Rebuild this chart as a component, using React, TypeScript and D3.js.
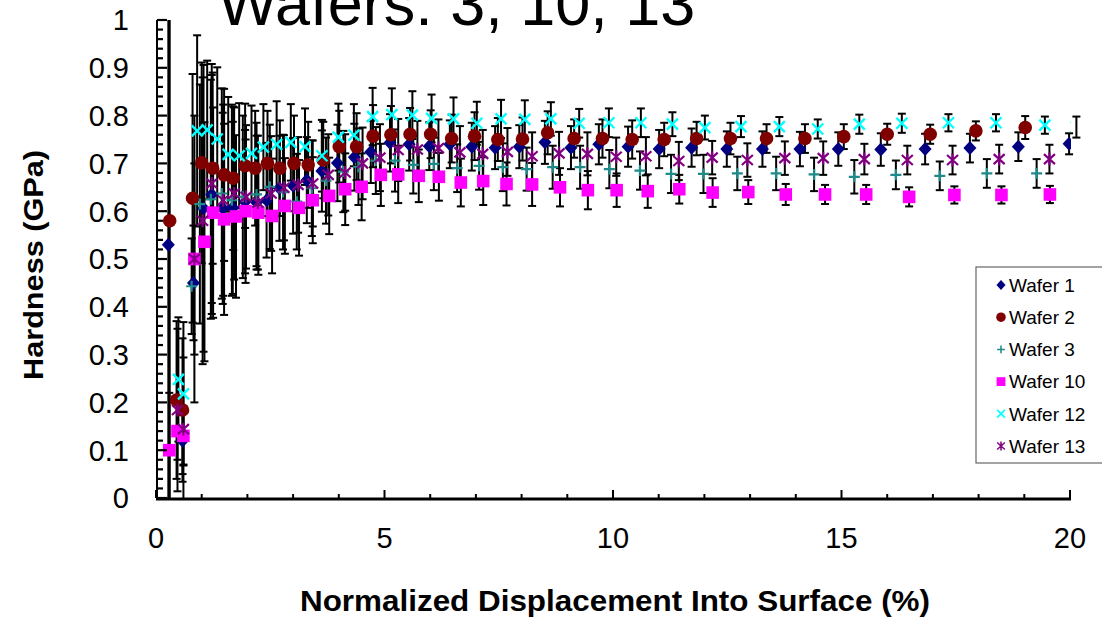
import React from "react";
import * as d3 from "d3";

// Nanoindentation hardness vs. normalized displacement, six wafers
const wafer1X = [0.27, 0.58, 0.82, 1.04, 1.22, 1.46, 1.68, 1.95, 2.2, 2.42, 2.7, 3.0, 3.3, 3.63, 3.97, 4.34, 4.7, 5.12, 5.54, 5.98, 6.43, 6.91, 7.42, 7.95, 8.51, 9.08, 9.69, 10.33, 11.01, 11.72, 12.49, 13.27, 14.09, 14.93, 15.86, 16.83, 17.81, 18.87, 19.98];
const wafer1Y = [0.53, 0.12, 0.45, 0.606, 0.635, 0.606, 0.607, 0.62, 0.618, 0.623, 0.648, 0.653, 0.665, 0.684, 0.701, 0.713, 0.724, 0.743, 0.74, 0.736, 0.74, 0.735, 0.733, 0.735, 0.744, 0.733, 0.74, 0.735, 0.73, 0.733, 0.73, 0.73, 0.73, 0.73, 0.729, 0.73, 0.732, 0.735, 0.741];
const wafer1Err = [0.6, 0.07, 0.12, 0.3, 0.25, 0.2, 0.18, 0.15, 0.14, 0.12, 0.11, 0.1, 0.09, 0.085, 0.08, 0.07, 0.065, 0.06, 0.055, 0.05, 0.05, 0.05, 0.045, 0.045, 0.045, 0.045, 0.042, 0.042, 0.04, 0.04, 0.037, 0.037, 0.036, 0.035, 0.034, 0.032, 0.03, 0.03, 0.022];

const wafer2X = [0.3, 0.45, 0.58, 0.8, 1.0, 1.24, 1.49, 1.69, 1.95, 2.17, 2.44, 2.71, 3.02, 3.33, 3.66, 4.01, 4.39, 4.75, 5.14, 5.56, 6.01, 6.47, 6.97, 7.48, 8.02, 8.57, 9.15, 9.77, 10.42, 11.12, 11.83, 12.57, 13.36, 14.2, 15.05, 16.0, 16.94, 17.94, 19.02];
const wafer2Y = [0.58, 0.205, 0.184, 0.627, 0.701, 0.69, 0.676, 0.669, 0.695, 0.69, 0.7, 0.69, 0.7, 0.697, 0.707, 0.735, 0.735, 0.757, 0.76, 0.761, 0.761, 0.752, 0.757, 0.75, 0.751, 0.764, 0.752, 0.752, 0.75, 0.75, 0.752, 0.752, 0.752, 0.752, 0.756, 0.761, 0.761, 0.768, 0.775];
const wafer2Err = [0.6, 0.165, 0.15, 0.26, 0.21, 0.2, 0.18, 0.15, 0.13, 0.12, 0.11, 0.1, 0.1, 0.09, 0.08, 0.075, 0.07, 0.065, 0.06, 0.055, 0.05, 0.05, 0.05, 0.045, 0.045, 0.045, 0.04, 0.04, 0.04, 0.035, 0.035, 0.033, 0.03, 0.03, 0.026, 0.022, 0.02, 0.02, 0.024];

const wafer3X = [0.78, 0.96, 1.2, 1.44, 1.66, 1.9, 2.2, 2.49, 2.78, 3.08, 3.41, 3.72, 4.1, 4.43, 4.81, 5.23, 5.63, 6.08, 6.59, 7.07, 7.59, 8.11, 8.68, 9.28, 9.92, 10.59, 11.27, 11.98, 12.72, 13.57, 14.4, 15.28, 16.19, 17.15, 18.18, 19.27];
const wafer3Y = [0.443, 0.615, 0.625, 0.637, 0.623, 0.63, 0.635, 0.651, 0.64, 0.62, 0.648, 0.664, 0.683, 0.693, 0.706, 0.706, 0.697, 0.699, 0.69, 0.695, 0.692, 0.688, 0.692, 0.692, 0.688, 0.685, 0.678, 0.678, 0.679, 0.679, 0.677, 0.672, 0.676, 0.674, 0.679, 0.679];
const wafer3Err = [0.1, 0.25, 0.25, 0.22, 0.2, 0.17, 0.15, 0.13, 0.12, 0.1, 0.1, 0.09, 0.085, 0.08, 0.07, 0.065, 0.06, 0.055, 0.05, 0.05, 0.05, 0.045, 0.045, 0.045, 0.04, 0.04, 0.04, 0.04, 0.035, 0.035, 0.035, 0.035, 0.03, 0.03, 0.03, 0.03];

const wafer10X = [0.29, 0.47, 0.6, 0.84, 1.06, 1.25, 1.49, 1.75, 1.96, 2.24, 2.54, 2.82, 3.13, 3.43, 3.79, 4.14, 4.5, 4.92, 5.3, 5.75, 6.19, 6.67, 7.16, 7.67, 8.23, 8.84, 9.45, 10.08, 10.76, 11.45, 12.18, 12.96, 13.78, 14.64, 15.54, 16.48, 17.47, 18.5, 19.56];
const wafer10Y = [0.1, 0.14, 0.13, 0.5, 0.536, 0.597, 0.583, 0.589, 0.6, 0.597, 0.59, 0.611, 0.607, 0.623, 0.632, 0.646, 0.651, 0.676, 0.677, 0.674, 0.672, 0.66, 0.663, 0.657, 0.656, 0.65, 0.644, 0.644, 0.642, 0.646, 0.639, 0.64, 0.635, 0.635, 0.635, 0.63, 0.634, 0.634, 0.635];
const wafer10Err = [0.12, 0.06, 0.06, 0.2, 0.25, 0.22, 0.2, 0.17, 0.15, 0.13, 0.12, 0.1, 0.1, 0.09, 0.08, 0.075, 0.07, 0.065, 0.06, 0.055, 0.05, 0.05, 0.05, 0.045, 0.045, 0.04, 0.04, 0.035, 0.035, 0.03, 0.03, 0.025, 0.022, 0.02, 0.02, 0.02, 0.018, 0.018, 0.018];

const wafer12X = [0.49, 0.6, 0.9, 1.12, 1.34, 1.58, 1.82, 2.09, 2.35, 2.64, 2.95, 3.26, 3.63, 3.99, 4.33, 4.74, 5.16, 5.61, 6.03, 6.51, 7.02, 7.55, 8.07, 8.64, 9.26, 9.91, 10.61, 11.3, 12.01, 12.8, 13.64, 14.48, 15.39, 16.32, 17.34, 18.38, 19.45, 20.14];
const wafer12Y = [0.248, 0.218, 0.768, 0.77, 0.751, 0.719, 0.716, 0.721, 0.734, 0.74, 0.744, 0.735, 0.716, 0.755, 0.759, 0.798, 0.802, 0.801, 0.794, 0.793, 0.784, 0.793, 0.792, 0.793, 0.784, 0.785, 0.785, 0.782, 0.775, 0.777, 0.777, 0.772, 0.782, 0.784, 0.785, 0.785, 0.78, 0.776];
const wafer12Err = [0.13, 0.15, 0.2, 0.145, 0.15, 0.12, 0.11, 0.1, 0.09, 0.09, 0.08, 0.08, 0.075, 0.07, 0.065, 0.06, 0.055, 0.05, 0.05, 0.045, 0.045, 0.04, 0.04, 0.035, 0.03, 0.03, 0.03, 0.025, 0.025, 0.022, 0.02, 0.02, 0.02, 0.02, 0.018, 0.018, 0.018, 0.022];

const wafer13X = [0.47, 0.6, 0.84, 1.02, 1.22, 1.47, 1.71, 1.97, 2.23, 2.52, 2.8, 3.11, 3.43, 3.77, 4.14, 4.52, 4.9, 5.3, 5.72, 6.18, 6.65, 7.15, 7.69, 8.23, 8.82, 9.44, 10.07, 10.72, 11.44, 12.17, 12.94, 13.76, 14.6, 15.5, 16.44, 17.43, 18.45, 19.55];
const wafer13Y = [0.184, 0.144, 0.5, 0.58, 0.658, 0.623, 0.637, 0.63, 0.618, 0.637, 0.649, 0.655, 0.658, 0.676, 0.681, 0.7, 0.712, 0.728, 0.729, 0.732, 0.723, 0.72, 0.724, 0.715, 0.721, 0.72, 0.714, 0.715, 0.705, 0.712, 0.707, 0.711, 0.711, 0.709, 0.707, 0.707, 0.709, 0.709];
const wafer13Err = [0.17, 0.15, 0.3, 0.3, 0.25, 0.2, 0.18, 0.15, 0.14, 0.12, 0.11, 0.1, 0.09, 0.085, 0.08, 0.075, 0.07, 0.065, 0.06, 0.06, 0.055, 0.05, 0.05, 0.05, 0.045, 0.045, 0.04, 0.04, 0.04, 0.035, 0.035, 0.035, 0.035, 0.032, 0.03, 0.03, 0.03, 0.03];

const seriesNames = ["Wafer 1", "Wafer 2", "Wafer 3", "Wafer 10", "Wafer 12", "Wafer 13"];
const xTickLabels = [0, 5, 10, 15, 20];
const yTickLabels = [0, 0.1, 0.2, 0.3, 0.4, 0.5, 0.6, 0.7, 0.8, 0.9, 1];

type Shape = "diamond" | "circle" | "plus" | "square" | "cross" | "star";

const series: { name: string; x: number[]; y: number[]; err: number[]; shape: Shape; color: string }[] = [
  { name: seriesNames[0], x: wafer1X, y: wafer1Y, err: wafer1Err, shape: "diamond", color: "#000080" },
  { name: seriesNames[1], x: wafer2X, y: wafer2Y, err: wafer2Err, shape: "circle", color: "#800000" },
  { name: seriesNames[2], x: wafer3X, y: wafer3Y, err: wafer3Err, shape: "plus", color: "#1f8a8a" },
  { name: seriesNames[3], x: wafer10X, y: wafer10Y, err: wafer10Err, shape: "square", color: "#ff00ff" },
  { name: seriesNames[4], x: wafer12X, y: wafer12Y, err: wafer12Err, shape: "cross", color: "#00ffff" },
  { name: seriesNames[5], x: wafer13X, y: wafer13Y, err: wafer13Err, shape: "star", color: "#800080" },
];

const FONT = "'Liberation Sans', Arial, Helvetica, sans-serif";
const W = 1102;
const H = 617;
const PLOT = { left: 156, right: 1070, top: 20, bottom: 498 };

function Marker({ shape, color, cx, cy, s = 1 }: { shape: Shape; color: string; cx: number; cy: number; s?: number }) {
  const t = `translate(${cx},${cy}) scale(${s})`;
  switch (shape) {
    case "diamond":
      return <path transform={t} d="M0,-7L6.5,0L0,7L-6.5,0Z" fill={color} />;
    case "circle":
      return <circle transform={t} r={6.8} fill={color} />;
    case "square":
      return <rect transform={t} x={-6.3} y={-6.3} width={12.6} height={12.6} fill={color} />;
    case "plus":
      return <path transform={t} d="M-5.5,0H5.5M0,-5.5V5.5" stroke={color} strokeWidth={2.2} fill="none" />;
    case "cross":
      return <path transform={t} d="M-5.5,-5.5L5.5,5.5M-5.5,5.5L5.5,-5.5" stroke={color} strokeWidth={2.4} fill="none" />;
    case "star":
      return <path transform={t} d="M-5.5,-5L5.5,5M-5.5,5L5.5,-5M0,-6.5V6.5" stroke={color} strokeWidth={2.2} fill="none" />;
  }
}

export default function App() {
  const x = d3.scaleLinear().domain([0, 20]).range([PLOT.left, PLOT.right]);
  const y = d3.scaleLinear().domain([0, 1]).range([PLOT.bottom, PLOT.top]);

  const xMinor = d3.range(0, 21, 1);
  const yMinor = d3.range(0, 51, 1).map((i) => i * 0.02);
  const cap = 4;

  return (
    <div style={{ position: "absolute", left: 0, top: 0, width: W, height: H, background: "#fff" }}>
      <svg width={W} height={H} style={{ display: "block", fontFamily: FONT }}>
        <defs>
          <clipPath id="bars-clip">
            <rect x={0} y={PLOT.top} width={W} height={PLOT.bottom - PLOT.top} />
          </clipPath>
          <clipPath id="marks-clip">
            <rect x={PLOT.left} y={PLOT.top - 8} width={PLOT.right - PLOT.left + 1} height={PLOT.bottom - PLOT.top + 8} />
          </clipPath>
        </defs>
        <rect width={W} height={H} fill="#fff" />

        {/* title, running off the top edge */}
        <text x={218} y={25} fontSize={63} fill="#000">
          Wafers: 3, 10, 13
        </text>

        {/* error bars */}
        <g clipPath="url(#bars-clip)" stroke="#000" strokeWidth={2} fill="none">
          {series.map((s) =>
            s.x.map((xv, i) => {
              const e = s.err[i] ?? s.err[s.err.length - 1];
              const px = x(xv);
              const y0 = y(s.y[i] - e);
              const y1 = y(s.y[i] + e);
              return (
                <g key={`${s.name}-${i}`}>
                  <line x1={px} x2={px} y1={y0} y2={y1} />
                  <line x1={px - cap} x2={px + cap} y1={y0} y2={y0} />
                  <line x1={px - cap} x2={px + cap} y1={y1} y2={y1} />
                </g>
              );
            })
          )}
        </g>

        {/* markers */}
        <g clipPath="url(#marks-clip)">
          {series.map((s) =>
            s.x.map((xv, i) => (
              <Marker key={`${s.name}-m-${i}`} shape={s.shape} color={s.color} cx={x(xv)} cy={y(s.y[i])} />
            ))
          )}
        </g>

        {/* y axis */}
        <line x1={PLOT.left + 1} x2={PLOT.left + 1} y1={PLOT.top} y2={PLOT.bottom} stroke="#000" strokeWidth={2} />
        {yMinor.map((v, i) => (
          <line
            key={`ym-${i}`}
            x1={PLOT.left + 1}
            x2={PLOT.left + (i % 5 === 0 ? 11 : 7)}
            y1={y(v)}
            y2={y(v)}
            stroke="#000"
            strokeWidth={2.2}
          />
        ))}
        {yTickLabels.map((v) => (
          <text key={`yl-${v}`} x={129} y={y(v)} dy="0.36em" textAnchor="end" fontSize={29} fill="#000">
            {String(v)}
          </text>
        ))}

        {/* x axis */}
        <line x1={PLOT.left} x2={PLOT.right + 1} y1={PLOT.bottom + 1} y2={PLOT.bottom + 1} stroke="#000" strokeWidth={3} />
        {xMinor.map((v) => (
          <line
            key={`xm-${v}`}
            x1={x(v)}
            x2={x(v)}
            y1={PLOT.bottom}
            y2={PLOT.bottom - (v % 5 === 0 ? 8 : 4)}
            stroke="#000"
            strokeWidth={2}
          />
        ))}
        {xTickLabels.map((v) => (
          <text key={`xl-${v}`} x={x(v)} y={548} textAnchor="middle" fontSize={29} fill="#000">
            {String(v)}
          </text>
        ))}

        {/* axis titles */}
        <text
          x={615}
          y={611}
          textAnchor="middle"
          fontSize={30}
          fontWeight="bold"
          textLength={630}
          lengthAdjust="spacingAndGlyphs"
          fill="#000"
        >
          Normalized Displacement Into Surface (%)
        </text>
        <text
          transform={`translate(43,265) rotate(-90)`}
          textAnchor="middle"
          fontSize={28}
          fontWeight="bold"
          textLength={230}
          lengthAdjust="spacingAndGlyphs"
          fill="#000"
        >
          Hardness (GPa)
        </text>

        {/* legend */}
        <g>
          <rect x={976} y={267} width={140} height={196} fill="#fff" stroke="#666" strokeWidth={1.2} />
          {series.map((s, i) => {
            const ly = 285 + i * 32.2;
            return (
              <g key={`lg-${s.name}`}>
                <Marker shape={s.shape} color={s.color} cx={1001} cy={ly} s={0.7} />
                <text x={1009} y={ly} dy="0.36em" fontSize={19} fill="#000">
                  {s.name}
                </text>
              </g>
            );
          })}
        </g>
      </svg>
    </div>
  );
}
